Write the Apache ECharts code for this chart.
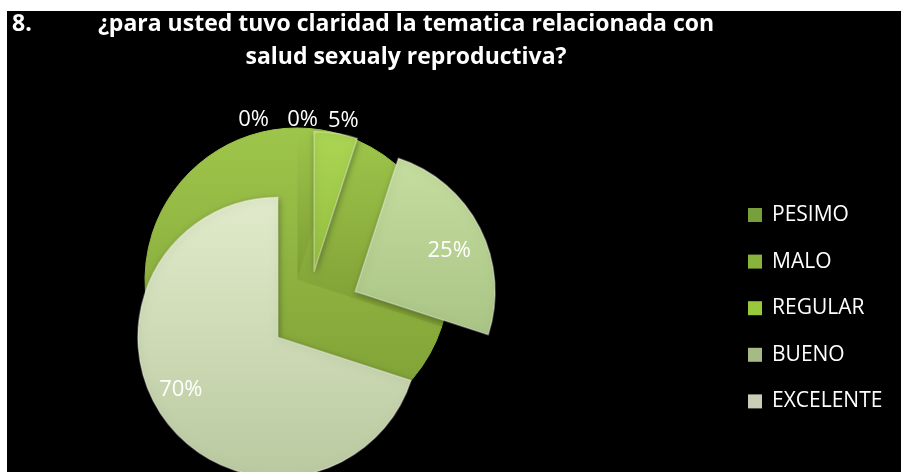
<!DOCTYPE html>
<html>
<head>
<meta charset="utf-8">
<script src="https://cdn.jsdelivr.net/npm/echarts@6/dist/echarts.min.js"></script>
<style>
  html, body { margin: 0; padding: 0; background: #fff; }
  #chart {
    position: absolute; left: 0; top: 0; width: 901px; height: 472px;
    background:
      linear-gradient(#fff, #fff) 0 0 / 100% 11px no-repeat,
      linear-gradient(#fff, #fff) 0 0 / 7px 100% no-repeat,
      #000;
  }
</style>
</head>
<body>
<div id="chart"></div>
<script>
// Encuesta, pregunta 8
const numeroPregunta = '8.';
const textoPregunta = '¿para usted tuvo claridad la tematica relacionada con\nsalud sexualy reproductiva?';
const categorias = ['PESIMO', 'MALO', 'REGULAR', 'BUENO', 'EXCELENTE'];
const porcentajes = [0, 0, 5, 25, 70];

// --- estilo ---
const FUENTE = '"Open Sans", Lato, sans-serif';
const CENTRO_CARAS = [307, 316];
const RADIO_CARAS = 140;
// separación (explosión) de cada porción
const separacion = [0, 0, 45, 54, 36];
// ajuste fino de la posición de cada etiqueta
const ajusteEtiqueta = [[-33, -56], [16, -56], [-13, -13], [29, -8], [-38, 10]];

function degradado(a, b) {
  return { type: 'linear', x: 0, y: 0, x2: 0, y2: 1,
           colorStops: [{ offset: 0, color: a }, { offset: 1, color: b }] };
}
const colorCara = [
  degradado('#8fb545', '#7a9f36'),
  degradado('#9cc548', '#86ad3a'),
  degradado('#abd553', '#95bf40'),
  degradado('#c6de9f', '#a9c485'),
  degradado('#e1ebcb', '#bac9a0')
];
const colorLeyenda = ['#78a03a', '#88b33c', '#99c83d', '#a7ba85', '#c7cdb7'];
const colorLados = degradado('#9ec54b', '#7d9d34');

const chart = echarts.init(document.getElementById('chart'), null, { renderer: 'canvas' });

// Paredes laterales del pastel (capa verde oscura que queda debajo)
const lados = {
  type: 'pie',
  name: 'lados',
  center: [297, 280],
  radius: 152,
  z: 1,
  silent: true,
  label: { show: false },
  labelLine: { show: false },
  itemStyle: { color: colorLados, borderColor: colorLados, borderWidth: 1 },
  data: categorias.map((n, i) => ({ name: n, value: porcentajes[i] }))
};

// Caras superiores: una capa por categoría, cada una con su propia separación
const caras = categorias.map((nombre, k) => ({
  type: 'pie',
  name: nombre,
  center: CENTRO_CARAS,
  radius: RADIO_CARAS,
  z: 2,
  silent: true,
  selectedMode: 'multiple',
  selectedOffset: separacion[k],
  avoidLabelOverlap: false,
  labelLine: { show: false, length: 0, length2: 0 },
  labelLayout: () => ({ dx: ajusteEtiqueta[k][0], dy: ajusteEtiqueta[k][1] }),
  emphasis: { disabled: true },
  data: categorias.map((n, i) => ({
    name: n,
    value: porcentajes[i],
    selected: i === k,
    itemStyle: (i === k && porcentajes[i] > 0)
      ? { color: colorCara[i], borderColor: 'rgba(255,255,255,0.35)', borderWidth: 1.5,
          shadowBlur: 6, shadowColor: 'rgba(0,0,0,0.35)', shadowOffsetX: 1, shadowOffsetY: 2 }
      : { color: 'rgba(0,0,0,0)', borderWidth: 0 },
    label: {
      show: i === k,
      position: i >= 3 ? 'inside' : 'outside',
      formatter: '{c}%',
      color: '#ffffff',
      fontFamily: FUENTE,
      fontSize: 22,
      fontWeight: 'normal'
    }
  }))
}));

chart.setOption({
  animation: false,
  backgroundColor: 'transparent',
  title: [
    {
      text: numeroPregunta, left: 12, top: 8, padding: 0,
      textStyle: { color: '#fff', fontFamily: FUENTE, fontWeight: 'bold', fontSize: 23, lineHeight: 33 }
    },
    {
      text: textoPregunta, left: 406, top: 8, padding: 0, textAlign: 'center',
      textStyle: { color: '#fff', fontFamily: FUENTE, fontWeight: 'bold', fontSize: 23, lineHeight: 33 }
    }
  ],
  legend: {
    orient: 'vertical',
    left: 748,
    top: 204,
    padding: 0,
    itemWidth: 14,
    itemHeight: 14,
    itemGap: 24.6,
    icon: 'rect',
    selectedMode: false,
    textStyle: { color: '#fff', fontFamily: FUENTE, fontSize: 21, lineHeight: 22, padding: [0, 0, 0, 5] },
    data: categorias.map((n, i) => ({
      name: n,
      itemStyle: { color: colorLeyenda[i], opacity: 1, borderWidth: 0, shadowBlur: 0 }
    }))
  },
  series: [lados].concat(caras)
});
</script>
</body>
</html>
